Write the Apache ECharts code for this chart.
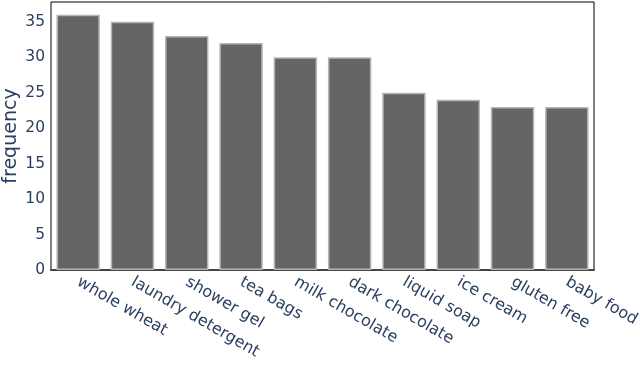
<!DOCTYPE html>
<html><head><meta charset="utf-8">
<script src="https://cdn.jsdelivr.net/npm/echarts@6/dist/echarts.min.js"></script>
<style>html,body{margin:0;padding:0;background:#fff}#c{width:640px;height:366px}</style>
</head><body><div id="c"></div>
<script>
const categories = ["whole wheat","laundry detergent","shower gel","tea bags","milk chocolate","dark chocolate","liquid soap","ice cream","gluten free","baby food"];
const frequency = [36,35,33,32,30,30,25,24,23,23];
const yTicks = [0,5,10,15,20,25,30,35];

const chart = echarts.init(document.getElementById('c'), null, {renderer:'canvas'});
const font = 'DejaVu Sans, Verdana, sans-serif';
chart.setOption({
  animation:false,
  grid:{left:51,right:46,top:2,bottom:96,containLabel:false,outerBoundsMode:'none',
    show:true,borderColor:'#000',borderWidth:1,backgroundColor:'#fff'},
  xAxis:{type:'category',data:categories,
    axisLine:{show:true,lineStyle:{color:'#444',width:2}},
    axisTick:{show:false},
    axisLabel:{rotate:-30,color:'#2a3f5f',fontSize:16,fontFamily:font,margin:11,interval:0}},
  yAxis:{type:'value',min:0,max:37.8,interval:5,
    name:'frequency',nameLocation:'middle',nameGap:30,nameMoveOverlap:false,
    nameTextStyle:{color:'#2a3f5f',fontSize:19,fontFamily:font},
    splitLine:{show:false},axisLine:{show:false},axisTick:{show:false},
    axisLabel:{color:'#2a3f5f',fontSize:15.5,fontFamily:font,margin:6,
      customValues:yTicks}},
  series:[{type:'bar',data:frequency,barCategoryGap:'20%',
    itemStyle:{color:'#656565',borderColor:'#b5b5b5',borderWidth:1.5}}]
});
</script></body></html>
